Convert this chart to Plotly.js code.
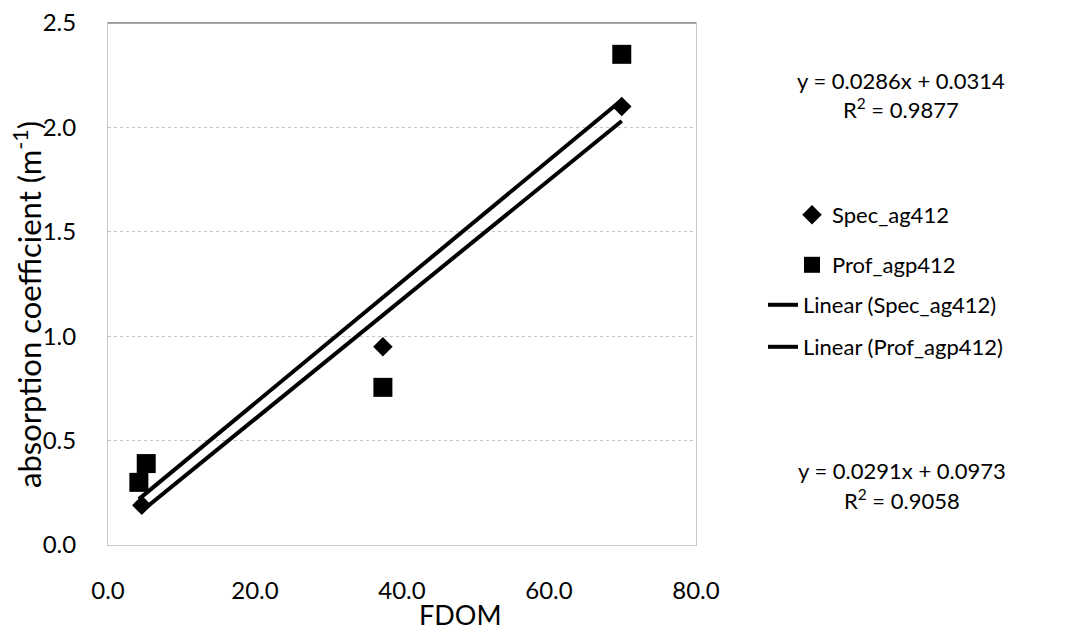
<!DOCTYPE html>
<html>
<head>
<meta charset="utf-8">
<script src="https://cdn.plot.ly/plotly-3.0.1.min.js"></script>
<style>
  html, body { margin: 0; padding: 0; background: #fff; }
  #chart { width: 1069px; height: 630px; }
</style>
</head>
<body>
<div id="chart"></div>
<script>
// FDOM vs. absorption coefficient at 412 nm
const specFDOM = [4.6, 37.4, 69.9];
const specAbs = [0.19, 0.95, 2.10];
const profFDOM = [4.2, 5.2, 37.4, 69.9];
const profAbs = [0.30, 0.39, 0.755, 2.35];

// Linear trendline fits: [slope, intercept, R²]
const specFit = [0.0286, 0.0314, 0.9877];
const profFit = [0.0291, 0.0973, 0.9058];

const xTicks = [0, 20, 40, 60, 80];
const yTicks = [0, 0.5, 1.0, 1.5, 2.0, 2.5];

const FONT = 'Lato, "Open Sans", sans-serif';
const W = 1069, H = 630;
// plot area in pixels
const PL = 108, PR = 696, PT = 23, PB = 545;

function trend(xs, fit) {
  const lo = Math.min(...xs), hi = Math.max(...xs);
  return { x: [lo, hi], y: [fit[0] * lo + fit[1], fit[0] * hi + fit[1]] };
}
const specLine = trend(specFDOM, specFit);
const profLine = trend(profFDOM, profFit);

const traces = [
  {
    x: specLine.x, y: specLine.y, mode: 'lines', name: 'Linear (Spec_ag412)',
    line: { color: '#000', width: 4 }, legend: 'legend3'
  },
  {
    x: profLine.x, y: profLine.y, mode: 'lines', name: 'Linear (Prof_agp412)',
    line: { color: '#000', width: 4 }, legend: 'legend4'
  },
  {
    x: specFDOM, y: specAbs, mode: 'markers', name: 'Spec_ag412',
    marker: { symbol: 'diamond', size: 15, color: '#000' }, legend: 'legend'
  },
  {
    x: profFDOM, y: profAbs, mode: 'markers', name: 'Prof_agp412',
    marker: { symbol: 'square', size: 19, color: '#000' }, legend: 'legend2'
  }
];

function legendAt(px, py) {
  return {
    x: px / W, y: 1 - py / H, xref: 'container', yref: 'container',
    xanchor: 'left', yanchor: 'middle',
    bgcolor: 'rgba(0,0,0,0)', borderwidth: 0,
    font: { family: FONT, size: 22, color: '#000' }
  };
}

// paper coordinates from pixel positions
function px2x(px) { return (px - PL) / (PR - PL); }
function py2y(py) { return (PB - py) / (PB - PT); }

function fmtEq(fit) {
  return 'y = ' + fit[0].toFixed(4) + 'x + ' + fit[1].toFixed(4);
}

function note(text, px, py, size, angle) {
  return {
    text: text, xref: 'paper', yref: 'paper', x: px2x(px), y: py2y(py),
    xanchor: 'center', yanchor: 'middle', showarrow: false,
    textangle: angle || 0,
    font: { family: FONT, size: size, color: '#000' }
  };
}

const layout = {
  width: W, height: H,
  margin: { l: PL, r: W - PR, t: PT, b: H - PB },
  paper_bgcolor: '#fff', plot_bgcolor: '#fff',
  font: { family: FONT, color: '#000' },
  showlegend: true,
  legend: legendAt(792, 215),
  legend2: legendAt(792, 265),
  legend3: legendAt(763, 305),
  legend4: legendAt(763, 347),
  xaxis: {
    range: [0, 80], tickvals: xTicks, tickformat: '.1f',
    showgrid: false, zeroline: false,
    showline: true, linecolor: '#c8c8c8', linewidth: 1, mirror: true,
    ticks: '', ticklabelstandoff: 24,
    tickfont: { family: FONT, size: 24, color: '#000' }
  },
  yaxis: {
    range: [0, 2.5], tickvals: yTicks, tickformat: '.1f',
    showgrid: true, gridcolor: '#c4c4c4', griddash: 'dot', gridwidth: 1,
    zeroline: false,
    showline: true, linecolor: '#c8c8c8', linewidth: 1, mirror: true,
    ticks: '', ticklabelstandoff: 26,
    tickfont: { family: FONT, size: 24, color: '#000' }
  },
  shapes: [
    { type: 'line', xref: 'paper', yref: 'paper', x0: 0, x1: 1, y0: 1, y1: 1,
      line: { color: '#8a8a8a', width: 1.5 } }
  ],
  annotations: [
    note('absorption coefficient (m<sup>-1</sup>)', 27, 305, 31, -90),
    note('FDOM', 460, 614, 27),
    note(fmtEq(specFit), 901, 80, 22),
    note('R<sup>2</sup> = ' + specFit[2].toFixed(4), 901, 108, 22),
    note(fmtEq(profFit), 902, 470, 22),
    note('R<sup>2</sup> = ' + profFit[2].toFixed(4), 902, 500, 22)
  ]
};

Plotly.newPlot('chart', traces, layout, { staticPlot: true, displayModeBar: false });
</script>
</body>
</html>
